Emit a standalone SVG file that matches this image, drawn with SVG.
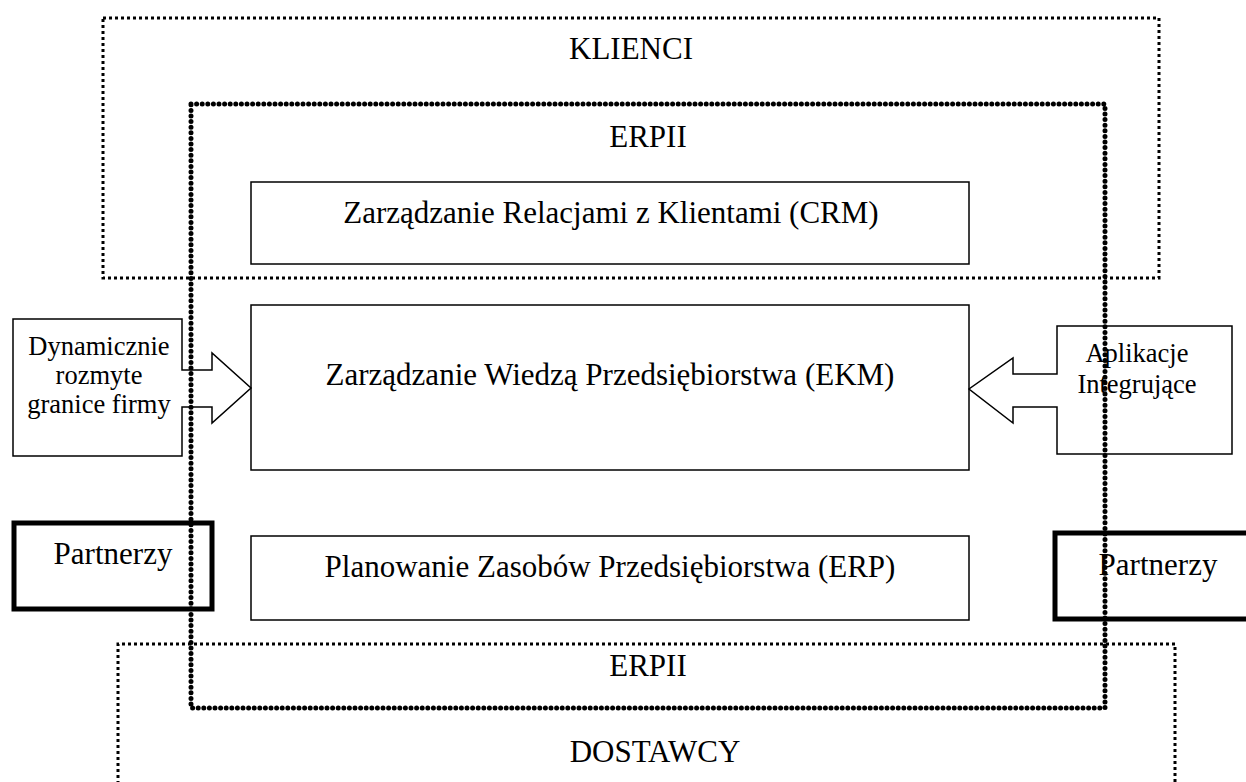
<svg xmlns="http://www.w3.org/2000/svg" width="1246" height="782" viewBox="0 0 1246 782">
<style>
text{font-family:"Liberation Serif","Times New Roman",serif;fill:#000;text-anchor:middle}
.big{font-size:31px}
.sm{font-size:26.5px}
.box{fill:#fff;stroke:#000;stroke-width:1.5}
.thick{fill:none;stroke:#000;stroke-width:5}
.dot{fill:none;stroke:#000;stroke-width:3;stroke-dasharray:3 3}
.erp2{fill:none;stroke:#000;stroke-width:5;stroke-linecap:round;stroke-dasharray:0 5.6}
</style>
<g id="klienci">
<rect class="dot" x="103" y="18" width="1056" height="260"/>
<text class="big" x="631" y="59">KLIENCI</text>
</g>
<g id="dostawcy">
<path class="dot" d="M118,790 V644 H1175 V790"/>
<text class="big" x="655" y="762">DOSTAWCY</text>
</g>
<g id="crm">
<rect class="box" x="251" y="182" width="718" height="82"/>
<text class="big" x="611" y="223">Zarządzanie Relacjami z Klientami (CRM)</text>
</g>
<g id="ekm">
<rect class="box" x="251" y="305" width="718" height="165"/>
<text class="big" x="610" y="385">Zarządzanie Wiedzą Przedsiębiorstwa (EKM)</text>
</g>
<g id="erp">
<rect class="box" x="251" y="536" width="718" height="84"/>
<text class="big" x="610" y="577">Planowanie Zasobów Przedsiębiorstwa (ERP)</text>
</g>
<g id="partnerzy-left">
<rect class="thick" x="14" y="523" width="198" height="86"/>
<text class="big" x="113" y="564">Partnerzy</text>
</g>
<g id="partnerzy-right">
<rect class="thick" x="1055" y="533" width="200" height="86"/>
<text class="big" x="1158" y="575">Partnerzy</text>
</g>
<g id="dynamicznie">
<path class="box" d="M13,319 H182 V370 H212 V353 L251,388 L212,423 V407 H182 V456 H13 Z"/>
<text class="sm" x="99" y="355">Dynamicznie</text>
<text class="sm" x="99" y="384">rozmyte</text>
<text class="sm" x="99" y="413">granice firmy</text>
</g>
<g id="aplikacje">
<path class="box" d="M1232,326 H1057 V374 H1013 V358 L969,389 L1013,423 V407 H1057 V454 H1232 Z"/>
<text class="sm" x="1137" y="362">Aplikacje</text>
<text class="sm" x="1137" y="393">Integrujące</text>
</g>
<g id="erpii">
<rect class="erp2" x="191" y="104" width="914" height="604"/>
<text class="big" x="648" y="147">ERPII</text>
<text class="big" x="648" y="676">ERPII</text>
</g>
<g id="connectors"></g>
</svg>
